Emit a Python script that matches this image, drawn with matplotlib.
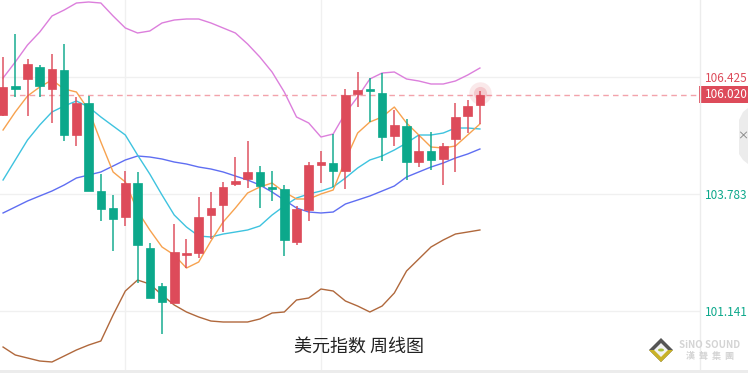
import numpy as np
import matplotlib
matplotlib.use("Agg")
import matplotlib.pyplot as plt
from matplotlib.patches import Rectangle, Polygon, Circle
from matplotlib.transforms import blended_transform_factory

plt.rcParams['font.family'] = ['Noto Sans CJK SC', 'DejaVu Sans']

# weekly candles
opens = [105.567, 106.222, 106.380, 106.651, 106.154, 106.583, 105.115, 105.838, 103.850, 103.466,
         103.263, 104.031, 102.563, 101.705, 101.321, 102.405, 102.450, 103.308, 103.534, 104.009,
         104.121, 104.280, 103.941, 103.896, 102.699, 103.421, 104.438, 104.483, 104.302, 106.041,
         106.154, 106.064, 105.093, 105.318, 104.505, 104.754, 104.573, 105.025, 105.544, 105.793]
highs = [106.877, 107.396, 106.832, 106.696, 106.944, 107.170, 105.973, 105.996, 104.234, 103.760,
         104.302, 104.280, 102.676, 101.773, 103.105, 102.766, 103.715, 103.828, 104.054, 104.618,
         104.980, 104.415, 104.302, 103.986, 103.512, 104.505, 104.754, 105.138, 106.154, 106.538,
         106.402, 106.515, 105.680, 105.476, 105.115, 105.183, 104.934, 105.838, 105.906, 106.109]
lows = [105.544, 105.973, 105.544, 105.973, 105.386, 104.980, 104.867, 103.850, 103.173, 102.495,
        103.060, 101.773, 101.434, 100.621, 101.321, 102.111, 102.337, 102.766, 102.924, 103.963,
        103.918, 103.466, 103.625, 102.382, 102.631, 103.173, 104.031, 103.941, 103.896, 105.747,
        105.409, 104.528, 104.867, 104.099, 104.392, 104.325, 103.986, 104.280, 105.160, 105.364]
closes = [106.199, 106.154, 106.719, 106.222, 106.606, 105.115, 105.838, 103.850, 103.444, 103.218,
          104.031, 102.631, 101.434, 101.344, 102.473, 102.450, 103.263, 103.466, 103.941, 104.076,
          104.280, 103.963, 103.896, 102.744, 103.444, 104.438, 104.505, 104.302, 106.018, 106.131,
          106.109, 105.070, 105.341, 104.505, 104.754, 104.551, 104.867, 105.522, 105.770, 106.020]

ma5 = [105.228, 105.635, 105.996, 106.199, 106.357, 106.154, 106.086, 105.680, 104.957, 104.280,
       104.054, 103.399, 102.970, 102.586, 102.405, 102.111, 102.247, 102.721, 103.150, 103.466,
       103.805, 103.941, 104.031, 103.828, 103.670, 103.670, 103.783, 103.873, 104.551, 105.160,
       105.409, 105.522, 105.747, 105.386, 105.115, 104.844, 104.822, 104.867, 105.115, 105.364]
ma10 = [104.099, 104.551, 105.002, 105.341, 105.635, 105.770, 105.883, 105.747, 105.522, 105.318,
        105.115, 104.663, 104.234, 103.760, 103.308, 103.037, 102.834, 102.812, 102.879, 102.924,
        102.970, 103.060, 103.308, 103.512, 103.692, 103.783, 103.850, 103.941, 104.144, 104.370,
        104.551, 104.641, 104.776, 104.934, 105.115, 105.115, 105.160, 105.273, 105.273, 105.251]
ma20 = [103.354, 103.489, 103.625, 103.738, 103.850, 103.986, 104.144, 104.212, 104.280, 104.415,
        104.551, 104.641, 104.618, 104.573, 104.505, 104.460, 104.392, 104.347, 104.280, 104.189,
        104.099, 103.986, 103.828, 103.647, 103.466, 103.376, 103.354, 103.376, 103.557, 103.647,
        103.738, 103.850, 103.963, 104.167, 104.280, 104.392, 104.483, 104.596, 104.686, 104.799]
boll_up = [106.402, 106.764, 107.148, 107.441, 107.803, 107.938, 108.096, 108.119, 108.096, 107.803,
           107.532, 107.419, 107.464, 107.645, 107.712, 107.735, 107.735, 107.645, 107.532, 107.419,
           107.170, 106.877, 106.538, 106.086, 105.522, 105.386, 105.070, 105.138, 105.612, 105.973,
           106.380, 106.515, 106.538, 106.380, 106.335, 106.267, 106.267, 106.335, 106.470, 106.628]
boll_dn = [100.327, 100.147, 100.079, 100.011, 99.989, 100.124, 100.260, 100.372, 100.463, 101.050,
           101.592, 101.840, 101.750, 101.502, 101.276, 101.118, 101.005, 100.914, 100.892, 100.892,
           100.892, 100.960, 101.095, 101.118, 101.389, 101.434, 101.637, 101.592, 101.366, 101.253,
           101.118, 101.253, 101.547, 102.044, 102.315, 102.586, 102.744, 102.879, 102.924, 102.970]

grid_prices = [106.425, 103.783, 101.141]
grid_idx = [10, 26]
last_price = 106.020
title = "美元指数 周线图"

RED = "#dd4b5a"
GREEN = "#0ca88b"

fig = plt.figure(figsize=(7.48, 3.73), dpi=100)
fig.patch.set_facecolor("white")
ax = fig.add_axes([0, 3 / 373, 700 / 748, 370 / 373])
ax.set_xlim(-0.25, 57.0)
ax.set_ylim(99.808, 108.164)
ax.axis("off")

# bottom strip and right-axis divider
fig.add_artist(Rectangle((0, 0), 1, 3 / 373, transform=fig.transFigure, color="#ececec", lw=0))
fig.add_artist(plt.Line2D([700 / 748, 700 / 748], [3 / 373, 1], transform=fig.transFigure,
                          color="#ececec", lw=1))

for p in grid_prices:
    ax.axhline(p, color="#f0f0f0", lw=1, zorder=0)
for i in grid_idx:
    ax.axvline(i, color="#f0f0f0", lw=1, zorder=0)

x = np.arange(len(closes))

# bands / averages
ax.plot(x, boll_up, color="#dc7fdc", lw=1, zorder=2)
ax.plot(x, boll_dn, color="#b0683c", lw=1, zorder=2)
ax.plot(x, ma20, color="#5f6ef2", lw=1, zorder=2)
ax.plot(x, ma10, color="#3ec3df", lw=1, zorder=2)
ax.plot(x, ma5, color="#f7a24f", lw=1, zorder=2)

# candles
for i in range(len(closes)):
    o, h, l, c = opens[i], highs[i], lows[i], closes[i]
    col = RED if c >= o else GREEN
    ax.vlines(i, l, h, color=col, lw=1.4, alpha=0.75, zorder=3)
    lo, hi = min(o, c), max(o, c)
    ax.add_patch(Rectangle((i - 0.35, lo), 0.7, max(hi - lo, 0.05), facecolor=col,
                           edgecolor=col, lw=0.5, zorder=4))

# glow on last candle
ax.scatter([x[-1]], [last_price + 0.05], s=260, color=RED, alpha=0.12, lw=0, zorder=5)
ax.scatter([x[-1]], [last_price + 0.05], s=90, color=RED, alpha=0.2, lw=0, zorder=5)

# current price line
ax.axhline(last_price, color="#f3a3ab", lw=1, ls=(0, (4, 3)), zorder=1)

# right axis labels
tr = blended_transform_factory(ax.transAxes, ax.transData)
ax.text(705 / 700, grid_prices[0] - 0.04, "106.425", transform=tr, color=RED, fontsize=8.5,
        va="center", ha="left", clip_on=False)
for p in grid_prices[1:]:
    ax.text(705 / 700, p - 0.04, "%.3f" % p, transform=tr, color=GREEN, fontsize=8.5,
            va="center", ha="left", clip_on=False)
ax.add_patch(Rectangle((699 / 700, last_price - 0.18), 49 / 700, 0.38, transform=tr,
                       facecolor=RED, edgecolor="none", clip_on=False, zorder=6))
ax.text(705 / 700, last_price, "%.3f" % last_price, transform=tr, color="white", fontsize=8.5,
        va="center", ha="left", clip_on=False, zorder=7)

# side tab
tab_pts = [(px / 748, 1 - py / 373) for px, py in [(748, 108), (743, 112), (739, 120),
                                                    (739, 154), (743, 160), (748, 164)]]
fig.add_artist(Polygon(tab_pts, closed=True, transform=fig.transFigure,
                       facecolor="#ececec", edgecolor="none"))
fig.text(743 / 748, 1 - 136 / 373, "×", color="#777777", fontsize=8, ha="center", va="center")

# title
fig.text(359 / 748, 1 - 347 / 373, title, color="#222222", fontsize=13, ha="center", va="center")

# watermark
def fpt(px, py):
    return (px / 748, 1 - py / 373)

fig.add_artist(Polygon([fpt(661, 338), fpt(673, 350), fpt(661, 362), fpt(649, 350)],
                       closed=True, transform=fig.transFigure, facecolor="#555555",
                       edgecolor="none"))
fig.add_artist(Polygon([fpt(673, 350), fpt(661, 362), fpt(649, 350), fpt(655, 350),
                        fpt(661, 356), fpt(667, 350)],
                       closed=True, transform=fig.transFigure, facecolor="#c9b227",
                       edgecolor="none"))
fig.add_artist(Polygon([fpt(661, 343), fpt(668, 350), fpt(661, 357), fpt(654, 350)],
                       closed=True, transform=fig.transFigure, facecolor="#f2f2f2",
                       edgecolor="none"))
fig.add_artist(Circle(fpt(661, 350), 3 / 748, transform=fig.transFigure,
                      facecolor="#a8c23a", edgecolor="none"))
fig.text(710 / 748, 1 - 345 / 373, "SiNO SOUND", color="#d4d4d4", fontsize=7,
         fontweight="bold", ha="center", va="center")
fig.text(710 / 748, 1 - 356 / 373, "漢  聲  集  團", color="#d4d4d4", fontsize=6.5,
         fontweight="bold", ha="center", va="center")

fig.savefig("out.png", dpi=100)
